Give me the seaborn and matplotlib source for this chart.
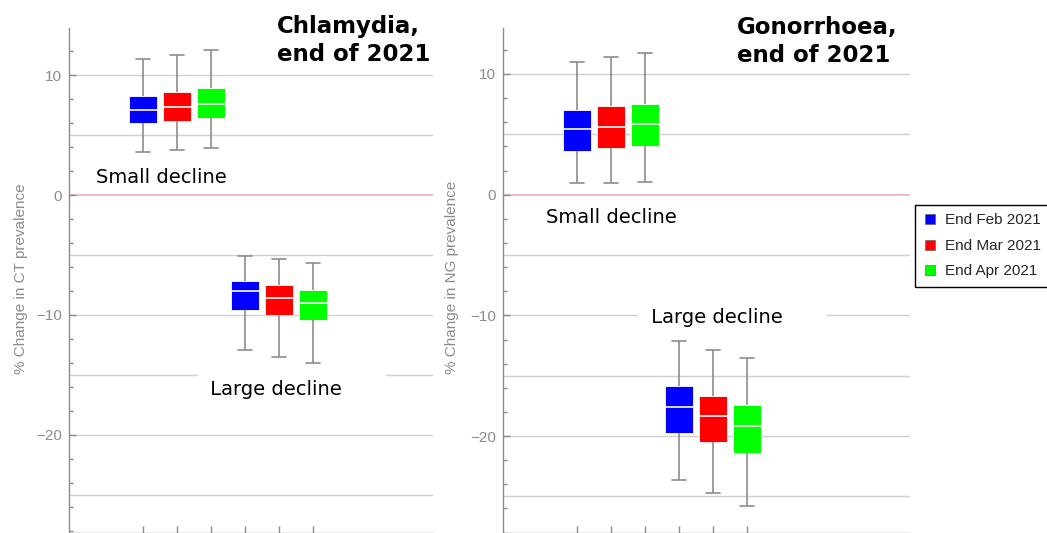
import matplotlib
matplotlib.use("Agg")
import matplotlib.pyplot as plt
from matplotlib.lines import Line2D
from matplotlib.ticker import MultipleLocator
import numpy as np
import pandas as pd
import seaborn as sns

# --- data (box stats per slot) ---
months = ["End Feb 2021", "End Mar 2021", "End Apr 2021"]
month_colors = ["#0000ff", "#ff0000", "#00ff00"]
slots = ["0", "1", "2", "3", "4", "5"]  # 0-2 small decline, 3-5 large decline

ct_low = [3.60, 3.78, 3.92, -12.92, -13.47, -14.03]
ct_q1 = [6.03, 6.17, 6.39, -9.58, -10.00, -10.42]
ct_med = [7.06, 7.30, 7.58, -8.03, -8.56, -9.03]
ct_q3 = [8.27, 8.58, 8.92, -7.17, -7.50, -7.92]
ct_high = [11.33, 11.67, 12.05, -5.08, -5.36, -5.69]

ng_low = [0.97, 0.97, 1.05, -23.64, -24.69, -25.78]
ng_q1 = [3.65, 3.90, 4.00, -19.72, -20.51, -21.37]
ng_med = [5.42, 5.64, 5.83, -17.62, -18.33, -19.19]
ng_q3 = [7.02, 7.32, 7.54, -15.82, -16.68, -17.42]
ng_high = [11.02, 11.43, 11.77, -12.12, -12.87, -13.53]


def to_long(low, q1, med, q3, high):
    # five values per box -> boxplot recovers exactly these quartiles/whiskers
    rows = []
    for i, s in enumerate(slots):
        for v in (low[i], q1[i], med[i], q3[i], high[i]):
            rows.append({"slot": s, "month": months[i % 3], "value": v})
    return pd.DataFrame(rows)


ct_df = to_long(ct_low, ct_q1, ct_med, ct_q3, ct_high)
ng_df = to_long(ng_low, ng_q1, ng_med, ng_q3, ng_high)

sns.set_style("white")
plt.rcParams["font.family"] = ["Liberation Sans", "DejaVu Sans"]

W, H = 1047, 533
fig = plt.figure(figsize=(W / 100, H / 100), dpi=100)

GRAY = "#8c8c8c"


def panel(df, rect, ylim, xlim, ylabel, label_xy, title, title_xy, small_xy, large_xy, large_txt):
    ax = fig.add_axes(rect)
    for y in [-25, -20, -15, -10, -5, 5, 10]:
        ax.axhline(y, color="#cfcfcf", lw=1, zorder=0.5)
    ax.axhline(0, color="#f0a8ac", lw=1.1, zorder=0.5)

    sns.boxplot(data=df, x="slot", y="value", hue="month", order=slots,
                hue_order=months, palette=month_colors, saturation=1, dodge=False,
                width=0.82, whis=(0, 100), linecolor=GRAY, linewidth=1.2,
                boxprops={"edgecolor": "white", "linewidth": 0.6},
                medianprops={"color": "white", "linewidth": 1.2},
                legend=False, ax=ax)

    ax.set_ylim(*ylim)
    ax.set_xlim(*xlim)
    ax.set_xlabel("")
    ax.set_ylabel(ylabel, color=GRAY, fontsize=11)
    ax.yaxis.set_label_coords(*label_xy)
    ax.set_xticks(range(len(slots)))
    ax.set_xticklabels([""] * len(slots))
    ax.yaxis.set_major_locator(MultipleLocator(10))
    ax.yaxis.set_minor_locator(MultipleLocator(2))
    ax.tick_params(axis="both", which="major", direction="in", length=5,
                   color=GRAY, labelcolor=GRAY, labelsize=11, width=1)
    ax.tick_params(axis="y", which="minor", direction="in", length=3,
                   color=GRAY, width=1, left=True)
    ax.tick_params(axis="x", which="major", bottom=True, length=5)
    ax.tick_params(axis="y", which="major", left=True, pad=5)
    for side in ("top", "right"):
        ax.spines[side].set_visible(False)
    for side in ("left", "bottom"):
        ax.spines[side].set_color(GRAY)
        ax.spines[side].set_linewidth(1)

    ax.text(title_xy[0], title_xy[1], title, fontsize=16.5, fontweight="bold",
            family="DejaVu Sans", color="black", ha="left", va="baseline",
            linespacing=1.27, clip_on=False)
    ax.text(small_xy[0], small_xy[1], "Small decline", fontsize=14, color="black",
            family="DejaVu Sans", ha="center", va="baseline", zorder=1.5)
    ax.text(large_xy[0], large_xy[1], large_txt, fontsize=14, color="black",
            family="DejaVu Sans", ha="center", va="baseline", zorder=1.5,
            bbox=dict(boxstyle="square,pad=0.35", fc="white", ec="none"))
    return ax


panel(ct_df, [69 / W, 0, 364 / W, 505 / H], (-28.17, 13.92), (-2.18, 8.53),
      "% Change in CT prevalence", (-0.113, 0.503), "Chlamydia,\nend of 2021",
      (3.94, 11.17), (0.54, 0.97), (4.38, -16.67), " Large decline      ")

panel(ng_df, [503 / W, 0, 407 / W, 505 / H], (-28.03, 13.81), (-2.18, 9.79),
      "% Change in NG prevalence", (-0.108, 0.506), "Gonorrhoea,\nend of 2021",
      (4.71, 11.0), (1.0, -2.35), (4.56, -10.66), " Large decline      ")

handles = [Line2D([], [], marker="s", linestyle="", markersize=7,
                  markerfacecolor=c, markeredgecolor="#555555", markeredgewidth=0.4)
           for c in month_colors]
fig.legend(handles, months, loc="upper left",
           bbox_to_anchor=(915 / W, 1 - 205 / H), fontsize=11,
           frameon=True, fancybox=False, edgecolor="black", framealpha=1,
           handlelength=0.8, handletextpad=0.6, labelspacing=0.75,
           borderpad=0.55, borderaxespad=0)

fig.savefig("out.png", dpi=100)
